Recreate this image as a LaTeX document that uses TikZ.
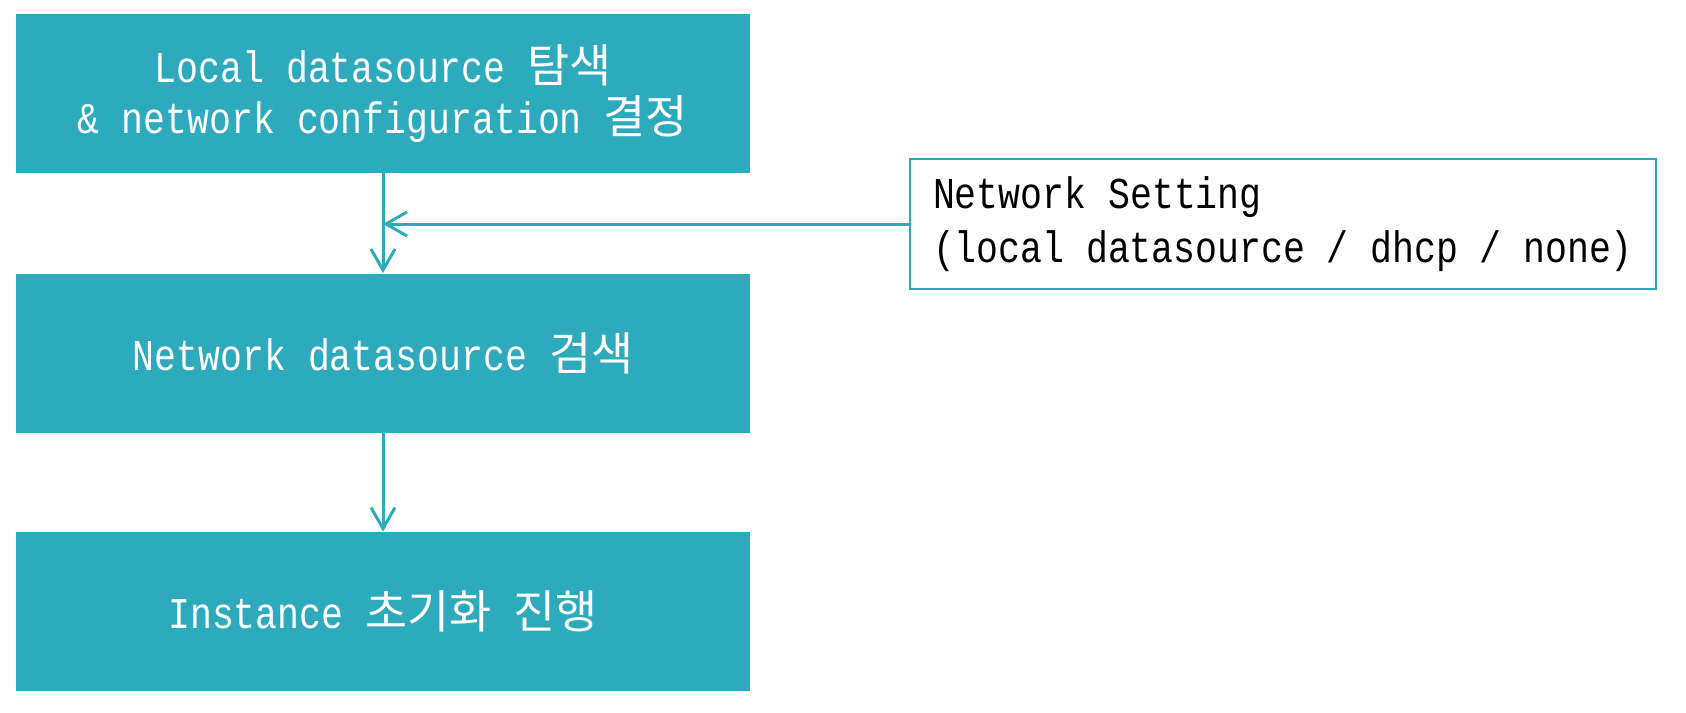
\documentclass[tikz,border=0pt]{standalone}
\usepackage{fontspec}
\setmainfont[FakeStretch=0.83]{Liberation Mono}
\newfontfamily\kr[Scale=1.04]{Noto Sans CJK KR}
\usetikzlibrary{arrows.meta,positioning}
\definecolor{teal}{RGB}{45,170,188}
\tikzset{proc/.style={rectangle, fill=teal, text=white, inner sep=0pt,
minimum width=367pt, minimum height=79.5pt, align=center,
font=\fontsize{22}{25.5}\selectfont},
note/.style={rectangle, draw=teal, line width=1pt, fill=white, inner xsep=11.5pt,
minimum width=373pt, minimum height=65pt, text width=350pt, align=flush left,
font=\fontsize{22}{27}\selectfont},
flow/.style={draw=teal, line width=1.5pt, -{Straight Barb[length=10.5pt,width=12pt]}}}
\begin{document}
\begin{tikzpicture}[x=0.5pt,y=-0.5pt]
  \useasboundingbox (0,0) rectangle (1686,712);
  \node (local) [proc] at (383,93.5) {Local datasource {\kr 탐색}\\\& network configuration {\kr 결정}};
  \node (netds) [proc] at (383,353) {Network datasource {\kr 검색}};
  \node (init) [proc] at (383,611.5) {Instance {\kr 초기화} {\kr 진행}};
  \node (setting) [note] at (1283,224) {Network Setting\\(local datasource / dhcp / none)};
  \coordinate (join) at (local.south |- setting.west);
  \draw [flow] (local) -- (netds);
  \draw [flow] (netds) -- (init);
  \draw [flow] (setting) -- (join);
\end{tikzpicture}
\end{document}
